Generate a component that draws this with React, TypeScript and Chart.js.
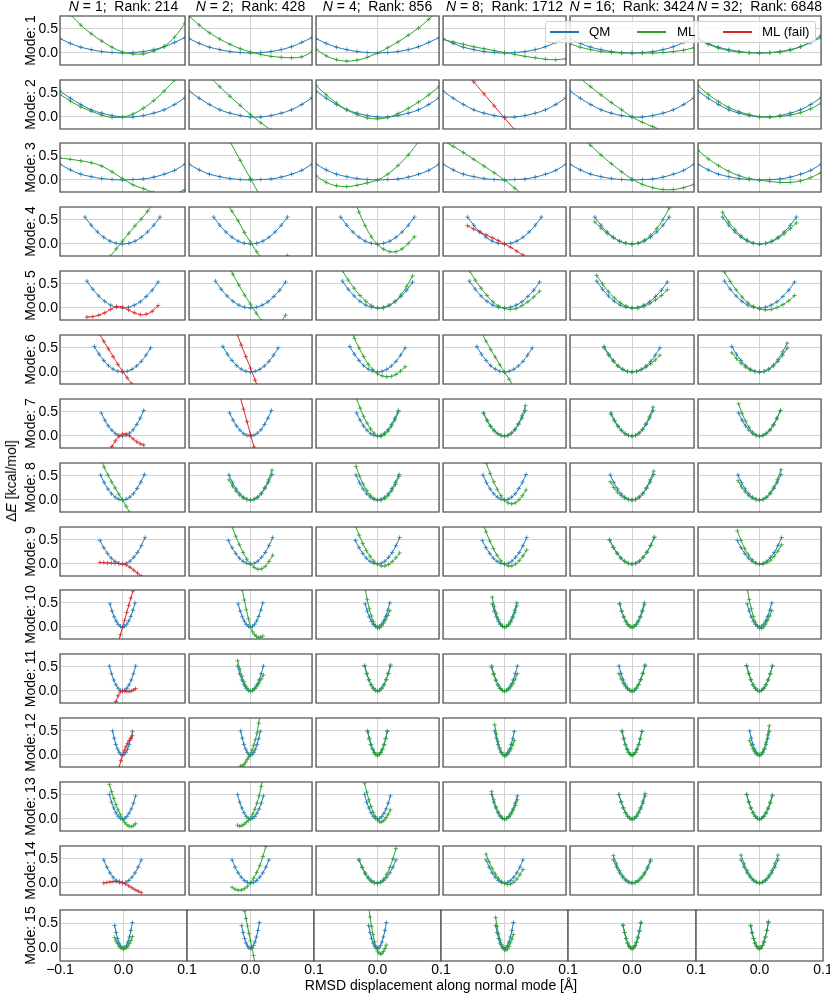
import React, { useEffect, useRef } from 'react';
import { Chart, registerables } from 'chart.js';

Chart.register(...registerables);
Chart.defaults.font.family = "'Liberation Sans', Arial, sans-serif";

// column headers
const nValues = [1, 2, 4, 8, 16, 32];
const ranks = [214, 428, 856, 1712, 3424, 6848];
const modeNumbers = [1, 2, 3, 4, 5, 6, 7, 8, 9, 10, 11, 12, 13, 14, 15];
const xTickValues = [-0.1, 0, 0.1];
const yTickValues = [0, 0.5];

// displacement grid (Å) for each mode
const dispWide = [-0.1, -0.0833, -0.0667, -0.05, -0.0333, -0.0167, 0, 0.0167, 0.0333, 0.05, 0.0667, 0.0833, 0.1];
const dispM4 = [-0.06, -0.05, -0.04, -0.03, -0.02, -0.01, 0, 0.01, 0.02, 0.03, 0.04, 0.05, 0.06];
const dispM5 = [-0.057, -0.0475, -0.038, -0.0285, -0.019, -0.0095, 0, 0.0095, 0.019, 0.0285, 0.038, 0.0475, 0.057];
const dispM6 = [-0.045, -0.0375, -0.03, -0.0225, -0.015, -0.0075, 0, 0.0075, 0.015, 0.0225, 0.03, 0.0375, 0.045];
const dispM7 = [-0.034, -0.0283, -0.0227, -0.017, -0.0113, -0.0057, 0, 0.0057, 0.0113, 0.017, 0.0227, 0.0283, 0.034];
const dispM8 = [-0.035, -0.0292, -0.0233, -0.0175, -0.0117, -0.0058, 0, 0.0058, 0.0117, 0.0175, 0.0233, 0.0292, 0.035];
const dispM9 = [-0.036, -0.03, -0.024, -0.018, -0.012, -0.006, 0, 0.006, 0.012, 0.018, 0.024, 0.03, 0.036];
const dispM10 = [-0.02, -0.0167, -0.0133, -0.01, -0.0067, -0.0033, 0, 0.0033, 0.0067, 0.01, 0.0133, 0.0167, 0.02];
const dispM11 = [-0.021, -0.0175, -0.014, -0.0105, -0.007, -0.0035, 0, 0.0035, 0.007, 0.0105, 0.014, 0.0175, 0.021];
const dispM12 = [-0.016, -0.0133, -0.0107, -0.008, -0.0053, -0.0027, 0, 0.0027, 0.0053, 0.008, 0.0107, 0.0133, 0.016];
const dispM14 = [-0.03, -0.025, -0.02, -0.015, -0.01, -0.005, 0, 0.005, 0.01, 0.015, 0.02, 0.025, 0.03];
const dispM15 = [-0.014, -0.0117, -0.0093, -0.007, -0.0047, -0.0023, 0, 0.0023, 0.0047, 0.007, 0.0093, 0.0117, 0.014];

// QM reference energies (kcal/mol), same for every column
const qmM1 = [0.30, 0.20, 0.12, 0.07, 0.03, 0.01, 0, 0.01, 0.03, 0.07, 0.13, 0.22, 0.32];
const qmM2 = [0.54, 0.39, 0.26, 0.15, 0.08, 0.03, 0.0, 0.0, 0.03, 0.08, 0.15, 0.26, 0.40];
const qmM3 = [0.33, 0.21, 0.12, 0.07, 0.03, 0.01, 0, 0.01, 0.02, 0.06, 0.12, 0.2, 0.33];
const qmM4 = [0.56, 0.39, 0.25, 0.14, 0.06, 0.015, 0, 0.015, 0.06, 0.14, 0.25, 0.39, 0.56];
const qmM5 = [0.56, 0.39, 0.25, 0.14, 0.06, 0.015, 0, 0.015, 0.06, 0.13, 0.24, 0.37, 0.54];
const qmM6 = [0.53, 0.37, 0.24, 0.13, 0.06, 0.015, 0, 0.015, 0.055, 0.125, 0.22, 0.35, 0.5];
const qmM7 = [0.48, 0.33, 0.21, 0.12, 0.05, 0.013, 0, 0.015, 0.06, 0.13, 0.24, 0.37, 0.53];
const qmM8 = [0.52, 0.36, 0.23, 0.13, 0.06, 0.015, 0, 0.015, 0.06, 0.13, 0.24, 0.37, 0.53];
const qmM9 = [0.49, 0.34, 0.22, 0.12, 0.055, 0.014, 0, 0.015, 0.06, 0.14, 0.24, 0.38, 0.55];
const qmM10 = [0.48, 0.33, 0.21, 0.12, 0.053, 0.013, 0, 0.014, 0.056, 0.125, 0.22, 0.35, 0.5];
const qmM11 = [0.52, 0.36, 0.23, 0.13, 0.058, 0.014, 0, 0.014, 0.058, 0.13, 0.23, 0.36, 0.52];
const qmM12 = [0.5, 0.35, 0.22, 0.125, 0.056, 0.014, 0, 0.014, 0.054, 0.12, 0.22, 0.34, 0.49];
const qmM13 = [0.51, 0.35, 0.23, 0.13, 0.057, 0.014, 0, 0.013, 0.053, 0.12, 0.21, 0.33, 0.48];
const qmM14 = [0.48, 0.33, 0.21, 0.12, 0.053, 0.013, 0, 0.013, 0.053, 0.12, 0.21, 0.33, 0.48];
const qmM15 = [0.46, 0.32, 0.2, 0.11, 0.05, 0.013, 0, 0.015, 0.06, 0.13, 0.23, 0.36, 0.52];

// ML energies, one list per column (N = 1, 2, 4, 8, 16, 32)
const mlM1 = [
  [1.05, 0.80, 0.58, 0.40, 0.25, 0.12, 0.02, -0.02, -0.02, 0.04, 0.14, 0.33, 0.62],
  [0.77, 0.58, 0.42, 0.29, 0.18, 0.09, 0.02, -0.03, -0.07, -0.09, -0.10, -0.08, 0.02],
  [0.08, -0.06, -0.14, -0.17, -0.15, -0.09, 0.0, 0.11, 0.23, 0.37, 0.52, 0.70, 0.90],
  [0.28, 0.23, 0.18, 0.13, 0.09, 0.05, 0.01, -0.03, -0.07, -0.10, -0.13, -0.14, -0.12],
  [0.19, 0.12, 0.07, 0.03, 0.01, 0.0, 0, 0, 0, 0.01, 0.03, 0.06, 0.11],
  [0.27, 0.18, 0.10, 0.05, 0.02, 0.005, 0, 0.005, 0.02, 0.06, 0.13, 0.23, 0.37],
];
const mlM2 = [
  [0.47, 0.33, 0.21, 0.12, 0.04, -0.01, 0.0, 0.06, 0.18, 0.34, 0.54, 0.77, 1.02],
  [1.35, 1.08, 0.84, 0.63, 0.43, 0.24, 0.05, -0.12, -0.27, -0.42, -0.56, -0.7, -0.83],
  [0.66, 0.46, 0.29, 0.15, 0.05, -0.02, -0.04, -0.01, 0.07, 0.18, 0.31, 0.46, 0.63],
  [1.5, 1.23, 0.98, 0.73, 0.48, 0.23, -0.02, -0.27, -0.52, -0.77, -1.0, -1.25, -1.5],
  [1.0, 0.8, 0.63, 0.46, 0.3, 0.15, 0.0, -0.11, -0.2, -0.28, -0.34, -0.39, -0.42],
  [0.65, 0.47, 0.32, 0.2, 0.11, 0.05, 0.01, 0.0, 0.01, 0.04, 0.09, 0.17, 0.29],
];
const mlM3 = [
  [0.46, 0.43, 0.40, 0.36, 0.29, 0.17, 0.03, -0.1, -0.18, -0.26, -0.3, -0.28, -0.2],
  [2.4, 2.0, 1.6, 1.2, 0.8, 0.41, 0.03, -0.36, -0.75, -1.14, -1.5, -1.9, -2.3],
  [0.09, -0.05, -0.12, -0.14, -0.11, -0.06, 0.0, 0.12, 0.3, 0.52, 0.8, 1.1, 1.45],
  [0.82, 0.70, 0.57, 0.43, 0.29, 0.15, 0.0, -0.17, -0.35, -0.53, -0.72, -0.9, -1.1],
  [1.15, 0.92, 0.72, 0.52, 0.34, 0.17, 0.02, -0.09, -0.16, -0.2, -0.2, -0.16, -0.09],
  [0.62, 0.44, 0.3, 0.18, 0.09, 0.03, 0.0, -0.03, -0.05, -0.05, -0.02, 0.05, 0.15],
];
const mlM4 = [
  [-0.9, -0.72, -0.55, -0.4, -0.26, -0.1, 0.06, 0.22, 0.38, 0.52, 0.68, 0.85, 1.0],
  [1.3, 1.08, 0.88, 0.68, 0.48, 0.24, 0.04, -0.16, -0.32, -0.45, -0.45, -0.38, -0.24],
  [1.75, 1.35, 1.0, 0.66, 0.38, 0.15, -0.01, -0.11, -0.16, -0.16, -0.1, 0.01, 0.15],
  [0.38, 0.31, 0.25, 0.19, 0.13, 0.07, 0.0, -0.07, -0.15, -0.23, -0.31, -0.4, -0.48],
  [0.46, 0.33, 0.22, 0.13, 0.06, 0.015, 0, 0.02, 0.08, 0.18, 0.32, 0.51, 0.75],
  [0.66, 0.46, 0.3, 0.17, 0.08, 0.02, 0, 0.01, 0.05, 0.12, 0.21, 0.32, 0.44],
];
const mlM5 = [
  [-0.19, -0.18, -0.15, -0.1, -0.03, 0.03, 0.02, -0.04, -0.1, -0.14, -0.13, -0.07, 0.05],
  [1.3, 1.12, 0.92, 0.7, 0.48, 0.27, 0.08, -0.11, -0.27, -0.38, -0.4, -0.32, -0.15],
  [0.78, 0.58, 0.41, 0.26, 0.14, 0.05, 0.0, 0.0, 0.05, 0.14, 0.27, 0.45, 0.67],
  [0.78, 0.58, 0.41, 0.26, 0.13, 0.04, -0.01, -0.03, -0.01, 0.05, 0.13, 0.23, 0.35],
  [0.68, 0.5, 0.34, 0.21, 0.11, 0.04, 0.0, 0.0, 0.03, 0.09, 0.17, 0.26, 0.38],
  [0.75, 0.55, 0.38, 0.23, 0.11, 0.03, -0.02, -0.04, -0.03, 0.01, 0.07, 0.15, 0.26],
];
const mlM6 = [
  [0.95, 0.8, 0.64, 0.48, 0.32, 0.16, 0.02, -0.12, -0.25, -0.39, -0.52, -0.66, -0.8],
  [1.54, 1.3, 1.05, 0.81, 0.56, 0.32, 0.08, -0.17, -0.41, -0.66, -0.9, -1.15, -1.39],
  [0.95, 0.7, 0.5, 0.32, 0.16, 0.05, -0.04, -0.08, -0.1, -0.09, -0.05, 0.02, 0.11],
  [0.98, 0.82, 0.64, 0.47, 0.31, 0.15, 0.0, -0.15, -0.3, -0.45, -0.6, -0.75, -0.9],
  [0.5, 0.35, 0.22, 0.12, 0.05, 0.01, 0, 0.01, 0.05, 0.1, 0.17, 0.25, 0.35],
  [0.4, 0.28, 0.18, 0.1, 0.04, 0.01, 0, 0.01, 0.06, 0.14, 0.26, 0.42, 0.6],
];
const mlM7 = [
  [-0.7, -0.55, -0.38, -0.22, -0.1, -0.01, 0.04, 0.04, 0.0, -0.06, -0.12, -0.16, -0.19],
  [1.6, 1.35, 1.08, 0.82, 0.56, 0.3, 0.03, -0.23, -0.5, -0.76, -1.03, -1.29, -1.55],
  [0.78, 0.58, 0.41, 0.27, 0.15, 0.06, 0.0, -0.01, 0.03, 0.1, 0.2, 0.33, 0.5],
  [0.47, 0.32, 0.2, 0.11, 0.05, 0.01, 0, 0.01, 0.06, 0.14, 0.26, 0.42, 0.63],
  [0.45, 0.31, 0.2, 0.11, 0.05, 0.01, 0, 0.01, 0.06, 0.14, 0.26, 0.41, 0.6],
  [0.67, 0.47, 0.31, 0.18, 0.08, 0.02, 0, 0.01, 0.05, 0.12, 0.22, 0.36, 0.53],
];
const mlM8 = [
  [0.85, 0.68, 0.52, 0.38, 0.25, 0.12, 0.0, -0.13, -0.27, -0.42, -0.58, -0.74, -0.9],
  [0.42, 0.29, 0.18, 0.1, 0.04, 0.01, 0, 0.01, 0.06, 0.14, 0.26, 0.42, 0.62],
  [0.7, 0.5, 0.33, 0.2, 0.1, 0.03, 0, 0.0, 0.03, 0.09, 0.19, 0.32, 0.49],
  [1.0, 0.76, 0.55, 0.38, 0.22, 0.09, 0.0, -0.06, -0.08, -0.06, 0.0, 0.09, 0.21],
  [0.38, 0.26, 0.16, 0.09, 0.04, 0.01, 0, 0.01, 0.06, 0.14, 0.26, 0.42, 0.6],
  [0.4, 0.27, 0.17, 0.09, 0.04, 0.01, 0, 0.01, 0.06, 0.15, 0.27, 0.43, 0.63],
];
const mlM9 = [
  [0.03, 0.03, 0.02, 0.02, 0.01, 0.01, 0.0, -0.02, -0.07, -0.13, -0.19, -0.25, -0.32],
  [1.0, 0.78, 0.58, 0.4, 0.24, 0.1, 0.0, -0.07, -0.11, -0.1, -0.05, 0.05, 0.18],
  [0.8, 0.6, 0.43, 0.28, 0.16, 0.06, 0.0, -0.04, -0.04, -0.01, 0.05, 0.13, 0.23],
  [0.88, 0.67, 0.48, 0.32, 0.18, 0.07, 0.0, -0.04, -0.04, 0.0, 0.07, 0.17, 0.29],
  [0.51, 0.35, 0.23, 0.13, 0.06, 0.015, 0, 0.015, 0.06, 0.14, 0.25, 0.39, 0.56],
  [0.69, 0.49, 0.32, 0.19, 0.09, 0.02, 0, 0.0, 0.03, 0.08, 0.16, 0.27, 0.4],
];
const mlM10 = [
  [-0.95, -0.8, -0.64, -0.48, -0.32, -0.16, -0.01, 0.14, 0.3, 0.45, 0.6, 0.75, 0.9],
  [1.2, 1.0, 0.77, 0.56, 0.36, 0.17, 0.0, -0.1, -0.16, -0.2, -0.22, -0.21, -0.19],
  [0.8, 0.57, 0.38, 0.23, 0.11, 0.03, -0.02, -0.02, 0.02, 0.08, 0.15, 0.24, 0.34],
  [0.62, 0.43, 0.28, 0.16, 0.07, 0.02, 0, 0.01, 0.04, 0.1, 0.19, 0.3, 0.44],
  [0.48, 0.33, 0.21, 0.12, 0.05, 0.01, 0, 0.01, 0.05, 0.11, 0.2, 0.32, 0.46],
  [0.8, 0.57, 0.38, 0.22, 0.1, 0.02, -0.02, -0.03, 0.0, 0.06, 0.14, 0.23, 0.34],
];
const mlM11 = [
  [-0.75, -0.55, -0.38, -0.22, -0.1, -0.02, 0.01, 0.0, -0.01, -0.01, 0.0, 0.02, 0.05],
  [0.63, 0.46, 0.31, 0.19, 0.09, 0.02, 0, 0.01, 0.05, 0.1, 0.17, 0.25, 0.33],
  [0.53, 0.37, 0.24, 0.13, 0.06, 0.015, 0, 0.015, 0.06, 0.13, 0.24, 0.37, 0.54],
  [0.49, 0.34, 0.22, 0.12, 0.05, 0.01, 0, 0.01, 0.04, 0.09, 0.16, 0.25, 0.36],
  [0.36, 0.25, 0.16, 0.09, 0.04, 0.01, 0, 0.01, 0.06, 0.13, 0.24, 0.37, 0.54],
  [0.53, 0.37, 0.24, 0.13, 0.06, 0.015, 0, 0.015, 0.06, 0.13, 0.23, 0.36, 0.52],
];
const mlM12 = [
  [-0.9, -0.72, -0.55, -0.4, -0.26, -0.12, 0.0, 0.09, 0.17, 0.24, 0.3, 0.35, 0.4],
  [-0.23, -0.23, -0.2, -0.15, -0.09, -0.04, 0.02, 0.1, 0.2, 0.32, 0.46, 0.66, 0.88],
  [0.48, 0.33, 0.21, 0.12, 0.05, 0.01, 0, 0.01, 0.05, 0.12, 0.21, 0.34, 0.5],
  [0.63, 0.44, 0.28, 0.15, 0.06, 0.01, -0.02, -0.01, 0.02, 0.07, 0.13, 0.21, 0.3],
  [0.48, 0.33, 0.21, 0.12, 0.05, 0.01, 0, 0.01, 0.05, 0.12, 0.21, 0.34, 0.49],
  [0.3, 0.21, 0.13, 0.07, 0.03, 0.005, 0, 0.01, 0.06, 0.14, 0.26, 0.42, 0.61],
];
const mlM13 = [
  [0.72, 0.57, 0.43, 0.3, 0.19, 0.09, 0.0, -0.07, -0.12, -0.15, -0.16, -0.14, -0.1],
  [-0.13, -0.15, -0.14, -0.11, -0.07, -0.03, 0.02, 0.1, 0.2, 0.33, 0.48, 0.68, 0.9],
  [0.75, 0.56, 0.4, 0.26, 0.14, 0.05, -0.02, -0.06, -0.06, -0.03, 0.03, 0.1, 0.19],
  [0.57, 0.4, 0.26, 0.15, 0.07, 0.02, 0, 0.01, 0.04, 0.1, 0.18, 0.28, 0.4],
  [0.51, 0.36, 0.23, 0.13, 0.06, 0.015, 0, 0.015, 0.06, 0.14, 0.24, 0.37, 0.53],
  [0.51, 0.36, 0.23, 0.13, 0.06, 0.015, 0, 0.015, 0.06, 0.13, 0.23, 0.35, 0.5],
];
const mlM14 = [
  [0.0, 0.01, 0.02, 0.03, 0.03, 0.03, 0.01, -0.02, -0.06, -0.1, -0.14, -0.17, -0.2],
  [-0.09, -0.13, -0.15, -0.15, -0.12, -0.07, 0.0, 0.1, 0.22, 0.36, 0.55, 0.76, 1.0],
  [0.48, 0.32, 0.19, 0.09, 0.03, 0.0, -0.01, 0.02, 0.08, 0.18, 0.32, 0.5, 0.72],
  [0.6, 0.44, 0.3, 0.19, 0.1, 0.03, -0.01, -0.03, -0.02, 0.02, 0.08, 0.17, 0.28],
  [0.57, 0.4, 0.26, 0.15, 0.07, 0.02, 0, 0.01, 0.04, 0.1, 0.18, 0.3, 0.45],
  [0.58, 0.4, 0.26, 0.15, 0.07, 0.02, 0, 0.02, 0.07, 0.15, 0.26, 0.4, 0.58],
];
const mlM15 = [
  [0.22, 0.15, 0.1, 0.05, 0.02, 0.005, 0, 0.005, 0.02, 0.05, 0.1, 0.16, 0.24],
  [1.05, 0.9, 0.75, 0.6, 0.45, 0.3, 0.155, 0.01, -0.14, -0.29, -0.44, -0.6, -0.74],
  [0.85, 0.63, 0.44, 0.28, 0.14, 0.03, -0.05, -0.09, -0.11, -0.1, -0.06, 0.0, 0.07],
  [0.62, 0.44, 0.29, 0.17, 0.08, 0.01, -0.03, -0.03, -0.01, 0.04, 0.11, 0.19, 0.28],
  [0.47, 0.32, 0.2, 0.11, 0.05, 0.01, 0, 0.01, 0.05, 0.12, 0.21, 0.34, 0.51],
  [0.45, 0.31, 0.2, 0.11, 0.05, 0.01, 0, 0.01, 0.06, 0.13, 0.23, 0.36, 0.54],
];

// columns (0-based) whose ML model failed, per mode
const failedCols = [[], [3], [], [3], [0], [0, 1], [0, 1], [], [0], [0], [0], [0], [], [0], []];

const dispByMode = [dispWide, dispWide, dispWide, dispM4, dispM5, dispM6, dispM7, dispM8, dispM9, dispM10, dispM11, dispM12, dispM11, dispM14, dispM15];
const qmByMode = [qmM1, qmM2, qmM3, qmM4, qmM5, qmM6, qmM7, qmM8, qmM9, qmM10, qmM11, qmM12, qmM13, qmM14, qmM15];
const mlByMode = [mlM1, mlM2, mlM3, mlM4, mlM5, mlM6, mlM7, mlM8, mlM9, mlM10, mlM11, mlM12, mlM13, mlM14, mlM15];

const QM_COLOR = '#1f77b4';
const ML_COLOR = '#2ca02c';
const FAIL_COLOR = '#d62728';
const GRID_COLOR = '#d3d3d3';
const FRAME_COLOR = '#555555';

const Y_MIN = -0.25;
const Y_MAX = 0.77;

// layout in page pixels
const colLeft = [60, 187, 314, 441, 568, 696];
const colRight = [187, 314, 441, 568, 696, 823];
const PLOT_H = 53;
const rowTop = (r: number) => Math.round(13.7 + 63.86 * r);
const M = 3; // spare room round each plot
const YW = 46; // width of y axis on left column
const XH = 22; // height of x axis on bottom row
const EX = 14; // extra side room for x tick labels

const fmt = (v: number) => (v < 0 ? '\u2212' : '') + Math.abs(v).toFixed(1);

// translucent version of a hex colour, for the '+' markers
const fade = (hex: string, a: number) => {
  const n = parseInt(hex.slice(1), 16);
  return `rgba(${(n >> 16) & 255},${(n >> 8) & 255},${n & 255},${a})`;
};

const framePlugin = {
  id: 'frame',
  afterDatasetsDraw(chart: any) {
    const { ctx, chartArea: a } = chart;
    ctx.save();
    ctx.strokeStyle = FRAME_COLOR;
    ctx.lineWidth = 1.25;
    ctx.strokeRect(a.left, a.top, a.right - a.left, a.bottom - a.top);
    ctx.restore();
  },
};

function Panel({ row, col }: { row: number; col: number }) {
  const canvasRef = useRef<HTMLCanvasElement>(null);
  const isLeft = col === 0;
  const isBottom = row === modeNumbers.length - 1;
  const plotW = colRight[col] - colLeft[col];
  const yw = isLeft ? YW : 0;
  const xh = isBottom ? XH : 0;
  const padL = M + (isBottom && !isLeft ? EX : 0);
  const padR = M + (isBottom ? EX : 0);
  const width = padL + yw + plotW + padR;
  const height = M + PLOT_H + xh + M;
  const left = colLeft[col] - padL - yw;
  const top = rowTop(row) - M;

  useEffect(() => {
    if (!canvasRef.current) return;
    const xs = dispByMode[row];
    const qm = qmByMode[row];
    const ml = mlByMode[row][col];
    const failed = failedCols[row].includes(col);
    const mlColor = failed ? FAIL_COLOR : ML_COLOR;
    const line = (color: string) => ({
      borderColor: color,
      backgroundColor: color,
      borderWidth: 1,
      pointStyle: 'cross' as const,
      pointRadius: 2.2,
      pointBorderWidth: 1,
      pointBorderColor: fade(color, 0.75),
      tension: 0.35,
      clip: 0,
    });
    const chart = new Chart(canvasRef.current, {
      type: 'line',
      data: {
        datasets: [
          { label: failed ? 'ML (fail)' : 'ML', data: xs.map((x, i) => ({ x, y: ml[i] })), ...line(mlColor) },
          { label: 'QM', data: xs.map((x, i) => ({ x, y: qm[i] })), ...line(QM_COLOR) },
        ],
      },
      options: {
        responsive: false,
        animation: false,
        events: [],
        layout: { padding: { left: padL, right: padR, top: M, bottom: M } },
        elements: { line: { capBezierPoints: false } },
        plugins: { legend: { display: false }, tooltip: { enabled: false } },
        scales: {
          x: {
            type: 'linear',
            min: -0.1,
            max: 0.1,
            afterBuildTicks: (s: any) => {
              s.ticks = xTickValues.map((v) => ({ value: v }));
            },
            afterFit: (s: any) => {
              s.height = xh;
              s.paddingLeft = 0;
              s.paddingRight = 0;
            },
            border: { display: false },
            grid: { color: GRID_COLOR, lineWidth: 1, drawTicks: false },
            ticks: {
              display: isBottom,
              padding: 1,
              color: '#000',
              font: { size: 14 },
              maxRotation: 0,
              autoSkip: false,
              callback: (v: any) => (col > 0 && v === -0.1 ? '' : fmt(Number(v))),
            },
          },
          y: {
            type: 'linear',
            min: Y_MIN,
            max: Y_MAX,
            afterBuildTicks: (s: any) => {
              s.ticks = yTickValues.map((v) => ({ value: v }));
            },
            afterFit: (s: any) => {
              s.width = yw;
              s.paddingTop = 0;
              s.paddingBottom = 0;
            },
            border: { display: false },
            grid: { color: GRID_COLOR, lineWidth: 1, drawTicks: false },
            ticks: {
              display: isLeft,
              padding: 2,
              color: '#000',
              font: { size: 14 },
              callback: (v: any) => fmt(Number(v)),
            },
            title: {
              display: isLeft,
              text: `Mode: ${modeNumbers[row]}`,
              color: '#000',
              font: { size: 14 },
              padding: { top: 9, bottom: 0 },
            },
          },
        },
      },
      plugins: [framePlugin],
    });
    return () => chart.destroy();
  }, [row, col]);

  return (
    <canvas
      ref={canvasRef}
      width={width}
      height={height}
      style={{ position: 'absolute', left, top, width, height }}
    />
  );
}

const legendItems = [
  { label: 'QM', color: QM_COLOR, lineX: 550, textX: 589 },
  { label: 'ML', color: ML_COLOR, lineX: 637, textX: 677 },
  { label: 'ML (fail)', color: FAIL_COLOR, lineX: 723, textX: 762 },
];

export default function App() {
  const text: React.CSSProperties = {
    position: 'absolute',
    fontFamily: "'Liberation Sans', Arial, sans-serif",
    fontSize: 14,
    lineHeight: '14px',
    color: '#000',
    whiteSpace: 'pre',
  };
  return (
    <div
      style={{
        position: 'absolute',
        left: 0,
        top: 0,
        width: 830,
        height: 996,
        background: '#fff',
        overflow: 'hidden',
      }}
    >
      {modeNumbers.map((_, r) =>
        nValues.map((__, c) => <Panel key={`${r}-${c}`} row={r} col={c} />)
      )}
      {nValues.map((n, c) => (
        <div
          key={`h${c}`}
          style={{
            ...text,
            top: -1.5,
            left: (colLeft[c] + colRight[c]) / 2,
            transform: 'translateX(-50%)',
          }}
        >
          <i>N</i>
          {` = ${n};  Rank: ${ranks[c]}`}
        </div>
      ))}
      <div
        style={{
          ...text,
          left: 11,
          top: 481,
          transform: 'translate(-50%, -50%) rotate(-90deg)',
        }}
      >
        {'\u0394'}
        <i>E</i>
        {' [kcal/mol]'}
      </div>
      <div style={{ ...text, left: 441, top: 978, transform: 'translateX(-50%)' }}>
        RMSD displacement along normal mode [Å]
      </div>
      <div
        style={{
          position: 'absolute',
          left: 545,
          top: 21,
          width: 271,
          height: 22,
          background: 'rgba(255,255,255,0.8)',
          border: '1px solid #d0d0d0',
          borderRadius: 3,
          boxSizing: 'border-box',
        }}
      />
      {legendItems.map((it) => (
        <React.Fragment key={it.label}>
          <div
            style={{
              position: 'absolute',
              left: it.lineX,
              top: 31,
              width: 29,
              height: 2,
              backgroundColor: it.color,
            }}
          />
          <div style={{ ...text, fontSize: 13.3, left: it.textX, top: 25 }}>{it.label}</div>
        </React.Fragment>
      ))}
    </div>
  );
}
